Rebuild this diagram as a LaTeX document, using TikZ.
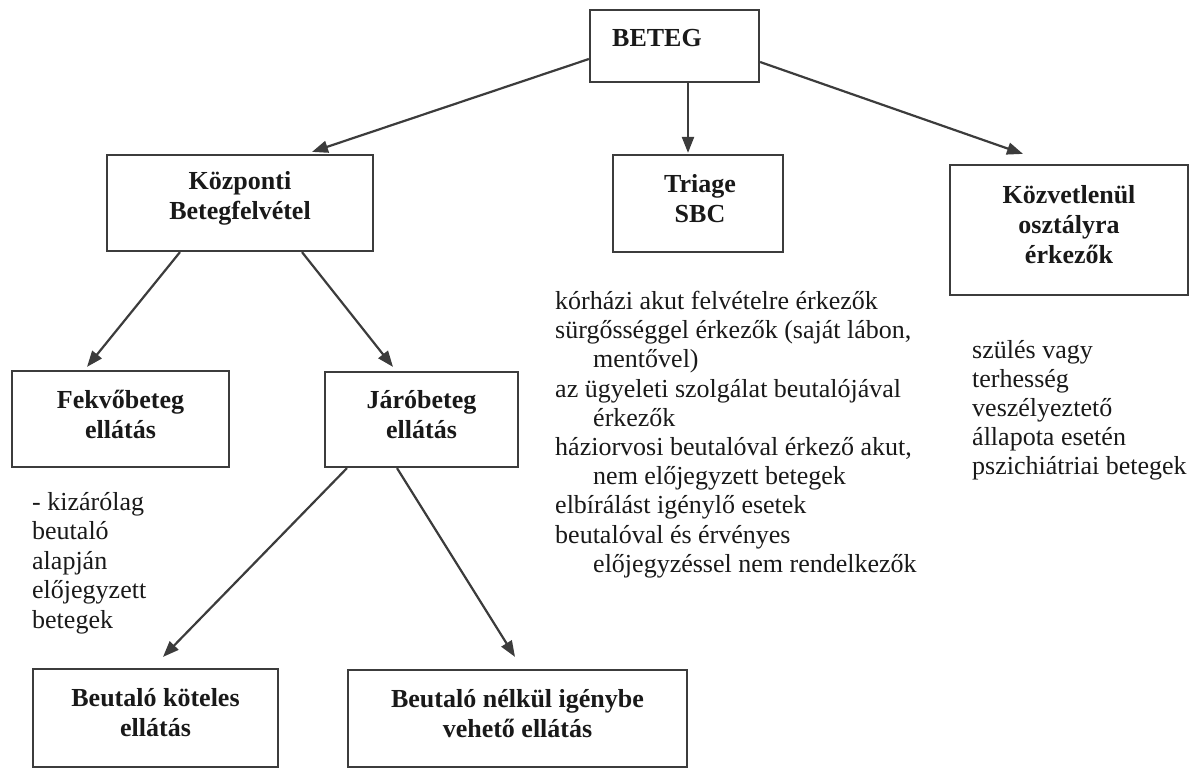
\documentclass[tikz,border=0pt]{standalone}
\usepackage{fontspec}
\setmainfont{Liberation Serif}
\usetikzlibrary{arrows.meta}
\definecolor{ln}{RGB}{60,60,60}
\definecolor{tx}{RGB}{25,25,25}
\tikzset{
  box/.style={draw=ln, line width=2.2pt, rectangle, inner sep=0pt},
  boxtext/.style={inner sep=0pt, align=center, text=tx, font=\fontsize{26}{30}\selectfont\bfseries},
  plain/.style={inner sep=0pt, anchor=base west, text=tx, font=\fontsize{26}{29}\selectfont},
  conn/.style={draw=ln, line width=2.2pt, -{Triangle[length=16pt,width=12pt]}}
}
\begin{document}
\begin{tikzpicture}[x=1pt,y=-1pt]
\useasboundingbox (0,0) rectangle (1197,769);
% boxes
\node[box, minimum width=169pt, minimum height=72pt] (beteg) at (674.5,46) {};
\node[box, minimum width=266pt, minimum height=96pt] (kozp) at (240,203) {};
\node[box, minimum width=170pt, minimum height=97pt] (triage) at (698,203.5) {};
\node[box, minimum width=238pt, minimum height=130pt] (kozv) at (1069,230) {};
\node[box, minimum width=217pt, minimum height=96pt] (fekvo) at (120.5,419) {};
\node[box, minimum width=193pt, minimum height=95pt] (jaro) at (421.5,419.5) {};
\node[box, minimum width=245pt, minimum height=98pt] (bk) at (155.5,718) {};
\node[box, minimum width=339pt, minimum height=97pt] (bn) at (517.5,718.5) {};
% box texts
\node[boxtext, anchor=base west] (tbeteg) at (612,46) {BETEG};
\node[boxtext] (tkozp) at ([yshift=5pt]kozp.center) {Központi\\Betegfelvétel};
\node[boxtext] (ttriage) at ([xshift=2pt,yshift=5pt]triage.center) {Triage\\SBC};
\node[boxtext] (tkozv) at ([yshift=5pt]kozv.center) {Közvetlenül\\osztályra\\érkezők};
\node[boxtext] (tfekvo) at ([yshift=5pt]fekvo.center) {Fekvőbeteg\\ellátás};
\node[boxtext] (tjaro) at ([yshift=5pt]jaro.center) {Járóbeteg\\ellátás};
\node[boxtext] (tbk) at ([yshift=5pt]bk.center) {Beutaló köteles\\ellátás};
\node[boxtext] (tbn) at ([yshift=5pt]bn.center) {Beutaló nélkül igénybe\\vehető ellátás};
% connectors
\draw[conn] ([yshift=-13pt]beteg.west) -- ([xshift=72pt,yshift=2pt]kozp.north);
\draw[conn] ([xshift=13.5pt]beteg.south) -- ([xshift=-10pt,yshift=1pt]triage.north);
\draw[conn] ([yshift=-16pt]beteg.east) -- ([xshift=-46pt,yshift=10pt]kozv.north);
\draw[conn] ([xshift=-60pt]kozp.south) -- ([xshift=-33.5pt,yshift=3pt]fekvo.north);
\draw[conn] ([xshift=62pt]kozp.south) -- ([xshift=-28.5pt,yshift=4pt]jaro.north);
\draw[conn] ([xshift=-74.5pt]jaro.south) -- ([xshift=7.5pt,yshift=11pt]bk.north);
\draw[conn] ([xshift=-24.5pt]jaro.south) -- ([xshift=-2.5pt,yshift=12pt]bn.north);
% Fekvobeteg notes
\node[plain] (f1) at (32,510) {- kizárólag};
\node[plain] (f2) at (32,539.5) {beutaló};
\node[plain] (f3) at (32,569) {alapján};
\node[plain] (f4) at (32,598.5) {előjegyzett};
\node[plain] (f5) at (32,628) {betegek};
% Triage notes
\node[plain] (s1) at (555,309) {kórházi akut felvételre érkezők};
\node[plain] (s2) at (555,338) {sürgősséggel érkezők (saját lábon,};
\node[plain] (s3) at (593,367) {mentővel)};
\node[plain] (s4) at (555,397) {az ügyeleti szolgálat beutalójával};
\node[plain] (s5) at (593,426) {érkezők};
\node[plain] (s6) at (555,455) {háziorvosi beutalóval érkező akut,};
\node[plain] (s7) at (593,484) {nem előjegyzett betegek};
\node[plain] (s8) at (555,513) {elbírálást igénylő esetek};
\node[plain] (s9) at (555,543) {beutalóval és érvényes};
\node[plain] (s10) at (593,572) {előjegyzéssel nem rendelkezők};
% Kozvetlenul notes
\node[plain] (k1) at (972,358) {szülés vagy};
\node[plain] (k2) at (972,387) {terhesség};
\node[plain] (k3) at (972,416) {veszélyeztető};
\node[plain] (k4) at (972,445) {állapota esetén};
\node[plain] (k5) at (972,474) {pszichiátriai betegek};
\end{tikzpicture}
\end{document}
